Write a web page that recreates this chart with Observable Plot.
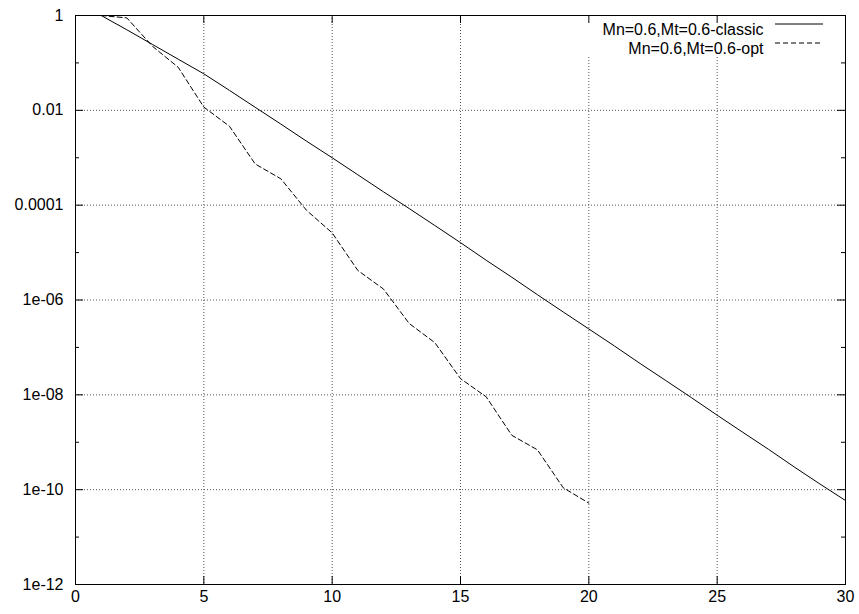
<!DOCTYPE html>
<html>
<head>
<meta charset="utf-8">
<script src="https://cdn.jsdelivr.net/npm/d3@7"></script>
<script src="https://cdn.jsdelivr.net/npm/@observablehq/plot@0.6"></script>
<style>
  html, body { margin: 0; padding: 0; background: white; }
</style>
</head>
<body>
<div id="chart"></div>
<script>
// x steps
const xClassic = d3.range(1, 31);
const yClassic = [
  1, 0.50, 0.245, 0.12, 0.0589, 0.0263, 0.0116, 5.13e-3, 2.24e-3, 1.0e-3,
  4.37e-4, 1.91e-4, 8.5e-5, 3.72e-5, 1.62e-5, 6.9e-6, 3.02e-6, 1.29e-6, 5.6e-7, 2.45e-7,
  1.07e-7, 4.57e-8, 2.0e-8, 8.7e-9, 3.72e-9, 1.62e-9, 7.1e-10, 3.02e-10, 1.32e-10, 5.9e-11
];
const xOpt = d3.range(1, 21);
const yOpt = [
  1, 0.89, 0.224, 0.081, 0.0117, 4.6e-3, 7.4e-4, 3.6e-4, 7.8e-5, 2.6e-5,
  4.2e-6, 1.7e-6, 3.2e-7, 1.26e-7, 2.2e-8, 9.1e-9, 1.4e-9, 6.9e-10, 1.1e-10, 5.2e-11
];
const seriesNames = ["Mn=0.6,Mt=0.6-classic", "Mn=0.6,Mt=0.6-opt"];

const xTicks = [0, 5, 10, 15, 20, 25, 30];
const xTickLabels = ["0", "5", "10", "15", "20", "25", "30"];
const yMajor = [1, 1e-2, 1e-4, 1e-6, 1e-8, 1e-10, 1e-12];
const yTickLabels = ["1", "0.01", "0.0001", "1e-06", "1e-08", "1e-10", "1e-12"];
const yMinor = [1e-1, 1e-3, 1e-5, 1e-7, 1e-9, 1e-11];

const classic = xClassic.map((x, i) => ({x, y: yClassic[i]}));
const opt = xOpt.map((x, i) => ({x, y: yOpt[i]}));
const xLabelMap = new Map(xTicks.map((d, i) => [d, xTickLabels[i]]));
const yLabelMap = new Map(yMajor.map((d, i) => [d, yTickLabels[i]]));

const W = 859, H = 614;
const mL = 75, mR = 14, mT = 15, mB = 30;
const iW = W - mL - mR, iH = H - mT - mB;
const gridStyle = {stroke: "#555", strokeDasharray: "1,2", strokeWidth: 1};
const FONT = "'Liberation Sans', Arial, Helvetica, sans-serif";

const chart = Plot.plot({
  width: W, height: H,
  marginLeft: mL, marginRight: mR, marginTop: mT, marginBottom: mB,
  style: {fontFamily: FONT, fontSize: "16px", background: "white", color: "black"},
  x: {type: "linear", domain: [0, 30], axis: null},
  y: {type: "log", domain: [1e-12, 1], axis: null},
  marks: [
    // grid
    Plot.ruleX(xTicks.slice(1, -1), {...gridStyle}),
    Plot.ruleY(yMajor.slice(1, -1), {...gridStyle}),
    // legend background (opaque key)
    Plot.frame({fill: "white", stroke: null, insetLeft: 505, insetRight: 1, insetTop: 1, insetBottom: iH - 40}),
    // data
    Plot.line(classic, {x: "x", y: "y", stroke: "black", strokeWidth: 1, clip: true}),
    Plot.line(opt, {x: "x", y: "y", stroke: "black", strokeWidth: 1, strokeDasharray: "5,3", clip: true}),
    // inward ticks
    Plot.tickX(xTicks, {x: d => d, insetTop: iH - 8, stroke: "black"}),
    Plot.tickX(xTicks, {x: d => d, insetBottom: iH - 8, stroke: "black"}),
    Plot.tickY(yMajor, {y: d => d, insetRight: iW - 8, stroke: "black"}),
    Plot.tickY(yMajor, {y: d => d, insetLeft: iW - 8, stroke: "black"}),
    Plot.tickY(yMinor, {y: d => d, insetRight: iW - 4, stroke: "black"}),
    Plot.tickY(yMinor, {y: d => d, insetLeft: iW - 4, stroke: "black"}),
    // axis labels
    Plot.text(xTicks, {x: d => d, frameAnchor: "bottom", dy: 17, text: d => xLabelMap.get(d), fontSize: 16, fill: "black"}),
    Plot.text(yMajor, {y: d => d, frameAnchor: "left", dx: -12, textAnchor: "end", text: d => yLabelMap.get(d), fontSize: 16, fill: "black"}),
    // legend
    Plot.text([seriesNames[0]], {frameAnchor: "top-right", dx: -82, dy: 8, textAnchor: "end", fontSize: 16, fill: "black"}),
    Plot.text([seriesNames[1]], {frameAnchor: "top-right", dx: -82, dy: 27, textAnchor: "end", fontSize: 16, fill: "black"}),
    Plot.ruleY([yMajor[0]], {dy: 8.5, insetLeft: 700, insetRight: 22, stroke: "black", strokeWidth: 1}),
    Plot.ruleY([yMajor[0]], {dy: 27.5, insetLeft: 700, insetRight: 22, stroke: "black", strokeWidth: 1, strokeDasharray: "5,3"}),
    // border
    Plot.frame({stroke: "black", strokeWidth: 1})
  ]
});
document.getElementById("chart").appendChild(chart);
</script>
</body>
</html>
